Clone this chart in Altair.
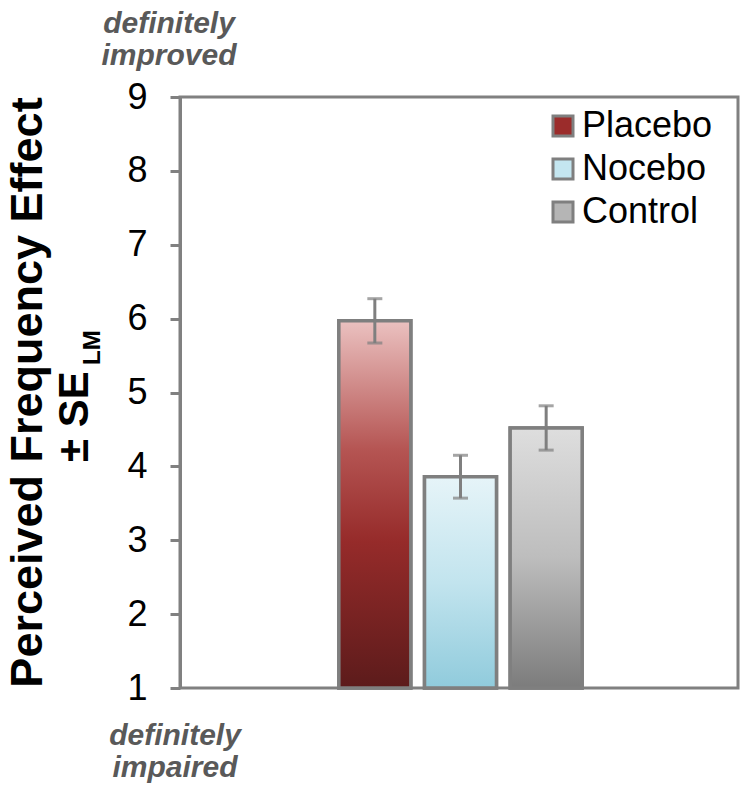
import altair as alt
import pandas as pd

groups = ["Placebo", "Nocebo", "Control"]
means = [5.97, 3.86, 4.52]
ses = [0.30, 0.29, 0.30]
y_ticks = [1, 2, 3, 4, 5, 6, 7, 8, 9]
legend_colors = ["#9b2c2b", "#c4e6f0", "#b5b5b5"]

df = pd.DataFrame({"group": groups, "mean": means, "se": ses})

FONT = "Liberation Sans"
GRAY = "#7f7f7f"

gradients = {
    "Placebo": [("#ebc1c0", 0.0), ("#b55553", 0.35), ("#962b2a", 0.6), ("#5c1b1b", 1.0)],
    "Nocebo": [("#e6f4f8", 0.0), ("#c2e4ee", 0.5), ("#90cbdc", 1.0)],
    "Control": [("#dedede", 0.0), ("#bdbdbd", 0.5), ("#7c7c7c", 1.0)],
}

xenc = alt.X("group:N", sort=groups,
             scale=alt.Scale(domain=groups, paddingInner=0.16, paddingOuter=0.08,
                             range=[152, 409]),
             axis=None)
yscale = alt.Scale(domain=[1, 9], nice=False, zero=False)

base = alt.Chart(df)

legend_bars = base.mark_bar(stroke=GRAY, strokeWidth=3.5).encode(
    x=xenc,
    y=alt.Y("mean:Q", scale=yscale,
            axis=alt.Axis(values=y_ticks, format="d", labelFontSize=36, labelFont=FONT,
                          labelColor="black",
                          tickColor="#808080", tickWidth=3, tickSize=10,
                          domainColor="#808080", domainWidth=3, labelPadding=23, grid=False,
                          title="Perceived Frequency Effect", titleFont=FONT, titleFontSize=45,
                          titleFontWeight="bold", titleColor="black", titleAngle=270,
                          titleX=-153, titleY=295, titleAlign="center", titleBaseline="middle")),
    y2=alt.datum(1),
    fill=alt.Fill("group:N", scale=alt.Scale(domain=groups, range=legend_colors),
                  legend=alt.Legend(title=None, orient="none", legendX=365, legendY=11,
                                    symbolType="square", symbolSize=400,
                                    symbolStrokeColor=GRAY, symbolStrokeWidth=3,
                                    labelFont=FONT, labelFontSize=36, labelColor="black",
                                    labelOffset=1, rowPadding=7, padding=0)),
)

grad_layers = []
for g in groups:
    stops = [alt.GradientStop(color=c, offset=o) for c, o in gradients[g]]
    grad_layers.append(
        base.transform_filter(alt.datum.group == g).mark_bar(
            fill=alt.LinearGradient(gradient="linear", stops=stops, x1=0, x2=0, y1=0, y2=1),
            stroke=GRAY, strokeWidth=3.5,
        ).encode(x=xenc, y=alt.Y("mean:Q", scale=yscale), y2=alt.datum(1))
    )

err_base = base.transform_calculate(lo="datum.mean - datum.se", hi="datum.mean + datum.se")
err_rule = err_base.mark_rule(color=GRAY, strokeWidth=3).encode(
    x=xenc, y=alt.Y("lo:Q", scale=yscale), y2="hi:Q")
cap_lo = err_base.mark_tick(color=GRAY, thickness=3, size=15).encode(
    x=xenc, y=alt.Y("lo:Q", scale=yscale))
cap_hi = err_base.mark_tick(color=GRAY, thickness=3, size=15).encode(
    x=xenc, y=alt.Y("hi:Q", scale=yscale))

one = alt.Data(values=[{"a": 1}])
pm_se = alt.Chart(one).mark_text(text="± SE", font=FONT, fontSize=42, fontWeight="bold",
                                 angle=270, align="left", baseline="alphabetic",
                                 color="black").encode(
    x=alt.value(-92), y=alt.value(365))
lm = alt.Chart(one).mark_text(text="LM", font=FONT, fontSize=24, fontWeight="bold",
                              angle=270, align="left", baseline="alphabetic",
                              color="black").encode(
    x=alt.value(-80), y=alt.value(268))
top_note = alt.Chart(one).mark_text(text=["definitely", "improved"], font=FONT, fontSize=30,
                                    fontWeight="bold", fontStyle="italic", color="#595959",
                                    align="center", baseline="alphabetic", lineHeight=32).encode(
    x=alt.value(-11), y=alt.value(-64))
bot_note = alt.Chart(one).mark_text(text=["definitely", "impaired"], font=FONT, fontSize=30,
                                    fontWeight="bold", fontStyle="italic", color="#595959",
                                    align="center", baseline="alphabetic", lineHeight=32).encode(
    x=alt.value(-5), y=alt.value(648))

chart = alt.layer(legend_bars, *grad_layers, err_rule, cap_lo, cap_hi,
                  pm_se, lm, top_note, bot_note).properties(
    width=558, height=591,
    autosize=alt.AutoSizeParams(type="none"),
    padding={"left": 172, "top": 89, "right": 4, "bottom": 96},
).configure_view(stroke="#808080", strokeWidth=3)

chart.save("out.html", embed_options={"renderer": "svg", "actions": False})
